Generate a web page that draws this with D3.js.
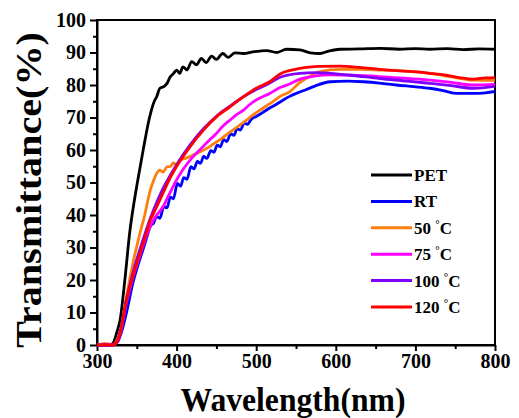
<!DOCTYPE html>
<html>
<head>
<meta charset="utf-8">
<script src="https://cdn.jsdelivr.net/npm/d3@7"></script>
<style>
  body { margin: 0; background: #fff; }
  svg text { font-family: "Times New Roman", "Liberation Serif", serif; font-weight: bold; fill: #000; }
  .axis path, .axis line { stroke: #000; stroke-width: 2px; }
</style>
</head>
<body>
<svg id="chart" width="519" height="418"></svg>
<script>
// data: [wavelength nm, transmittance %]
var seriesNames = ['PET', 'RT', '50 °C', '75 °C', '100 °C', '120 °C'];
var seriesColors = ['#000000', '#0000ff', '#ff7f0e', '#ff00ff', '#8000ff', '#ff0000'];

var pet = [[300,0],[315,0],[320,0.5],[325,4],[329,7.7],[335,20],[341,34.4],[347,44.6],[350,49],[358,60],
  [366,70],[372,75],[375,76.4],[379,79],[384,79.5],[388,80.5],[392,82.5],[396,83.5],[400,84.6],[404,83.6],
  [408,85.6],[413,84.6],[419,87.2],[425,86.2],[431,88.2],[437,86.9],[444,88.9],[450,87.9],[458,89.7],
  [465,88.5],[473,89.9],[484,89.7],[496,90.2],[513,90.6],[526,90],[538,91],[555,90.8],[568,89.9],[580,89.7],
  [592,90.5],[605,91],[630,91.1],[655,91.3],[680,91],[700,91.2],[718,91],[740,91.2],[760,90.9],[780,91.1],[800,91]];

var rt = [[300,0],[320,0],[326,1],[332,5],[338,11],[345,19],[352,25],[358,29.5],[363,33.5],[367,36.5],
  [371,37.5],[375,39.5],[379,39],[384,42.6],[388,42.2],[392,45.5],[396,45],[401,49.7],[405,48.9],[409,51.5],
  [413,51],[418,54.9],[422,54.2],[426,56.5],[430,55.9],[434,58],[438,57.4],[443,59.8],[447,59.3],[451,61.5],
  [455,61],[459,63.2],[463,62.6],[468,65],[472,64.5],[476,66.6],[480,66.1],[485,68.3],[489,67.9],[494,69.5],
  [500,70.3],[508,71.5],[517,72.9],[525,74],[534,75.4],[542,76.5],[551,77.5],[563,78.6],[575,79.8],[593,81],
  [615,81.2],[635,81],[655,80.6],[676,80],[698,79.5],[718,79],[735,78.3],[752,77.4],[773,77.4],[788,77.6],[800,78]];

var t50 = [[300,0],[305,0.3],[310,0.5],[315,0.3],[320,0],[325,1.5],[330,5],[337,15],[345,25],[354,34.4],
  [360,40],[364,44.6],[367,47.7],[371,50.5],[375,52.8],[379,53.8],[383,53.2],[388,54.9],[392,54.9],[396,56],
  [400,55.5],[404,56.9],[412,57.5],[421,58.5],[429,59.4],[438,60.5],[446,61.8],[454,63.1],[462,64.6],[471,66.2],
  [479,67.6],[488,69.2],[496,70.8],[505,72.3],[513,73.6],[521,74.9],[530,76.5],[542,77.9],[555,80.8],[567,82.6],
  [580,84.1],[605,84.8],[630,84.8],[655,84.6],[690,84.2],[718,83.6],[745,82.5],[773,81.5],[800,81.4]];

var t75 = [[300,0],[320,0],[325,0.8],[329,3.2],[337,13],[346,21.5],[354,27.5],[362,33.5],[371,38.5],[383,42.6],
  [391,46.5],[400,50.8],[408,54],[417,56.9],[425,59],[433,61],[442,63.2],[450,65.1],[458,67.3],[467,69.2],
  [475,70.8],[484,72.3],[492,74],[500,75.4],[517,77.4],[530,79.2],[542,80.3],[555,81.8],[575,82.8],[593,83.1],
  [620,83],[655,82.6],[690,82],[718,81.5],[745,80.8],[773,80],[800,80.3]];

var t100 = [[300,0],[320,0],[325,1],[329,4],[337,14],[346,23],[354,29.5],[362,35.5],[371,41.5],[383,48.2],
  [391,51.8],[400,55.5],[417,61.6],[434,66.6],[450,70.4],[467,73.5],[484,76.4],[500,78.6],[517,80.6],[530,82.4],
  [555,83.6],[575,83.8],[593,83.6],[620,83],[655,82],[690,81.2],[718,80.5],[745,79.8],[773,79],[800,79.6]];

var t120 = [[300,0],[320,0],[325,1],[329,3.6],[337,13.8],[346,22],[354,28.2],[362,34.4],[367,38.5],[371,40.5],
  [377,43.6],[383,46.8],[391,51],[400,54.9],[417,61],[434,66.2],[450,70.2],[467,73.3],[484,76.4],[500,79],
  [517,81],[530,83.4],[555,85.1],[580,85.7],[605,85.8],[630,85.4],[655,84.8],[676,84.4],[697,84.1],[718,83.6],
  [739,83],[755,82.3],[773,81.8],[788,82.2],[800,82.3]];

var seriesData = [pet, rt, t50, t75, t100, t120];

var xTicks = [300, 400, 500, 600, 700, 800];
var xMinor = [350, 450, 550, 650, 750];
var yTicks = [0, 10, 20, 30, 40, 50, 60, 70, 80, 90, 100];
var yMinor = [5, 15, 25, 35, 45, 55, 65, 75, 85, 95];

var svg = d3.select('#chart');
var pLeft = 97, pRight = 495, pTop = 20, pBottom = 345;

var x = d3.scaleLinear().domain([300, 800]).range([pLeft, pRight]);
var y = d3.scaleLinear().domain([0, 100]).range([pBottom, pTop]);

// minor ticks
svg.append('g').attr('class', 'axis')
  .attr('transform', 'translate(0,' + pBottom + ')')
  .call(d3.axisBottom(x).tickValues(xMinor).tickSize(4).tickFormat(''))
  .select('.domain').remove();
svg.append('g').attr('class', 'axis')
  .attr('transform', 'translate(' + pLeft + ',0)')
  .call(d3.axisLeft(y).tickValues(yMinor).tickSize(4).tickFormat(''))
  .select('.domain').remove();

// major ticks
var gx = svg.append('g').attr('class', 'axis')
  .attr('transform', 'translate(0,' + pBottom + ')')
  .call(d3.axisBottom(x).tickValues(xTicks).tickSize(6).tickSizeOuter(0).tickPadding(3));
gx.selectAll('text').style('font-size', '20px');

var gy = svg.append('g').attr('class', 'axis')
  .attr('transform', 'translate(' + pLeft + ',0)')
  .call(d3.axisLeft(y).tickValues(yTicks).tickSize(7).tickSizeOuter(0).tickPadding(4));
gy.selectAll('text').style('font-size', '20px');

// frame
svg.append('rect')
  .attr('x', pLeft).attr('y', pTop)
  .attr('width', pRight - pLeft).attr('height', pBottom - pTop)
  .attr('fill', 'none').attr('stroke', '#000').attr('stroke-width', 2);

var line = d3.line()
  .x(function(d){ return x(d[0]); })
  .y(function(d){ return y(d[1]); })
  .curve(d3.curveMonotoneX);

for (var i = 0; i < seriesData.length; i++) {
  svg.append('path')
    .datum(seriesData[i])
    .attr('d', line)
    .attr('fill', 'none')
    .attr('stroke', seriesColors[i])
    .attr('stroke-width', 2.8)
    .attr('stroke-linejoin', 'round');
}

// legend
var legend = svg.append('g').attr('transform', 'translate(371,175)');
seriesNames.forEach(function(name, i){
  var g = legend.append('g').attr('transform', 'translate(0,' + (i * 26.4) + ')');
  g.append('line').attr('x1', 0).attr('x2', 41).attr('y1', 0).attr('y2', 0)
    .attr('stroke', seriesColors[i]).attr('stroke-width', 3);
  var t = g.append('text').attr('x', 43).attr('y', 6).style('font-size', '17px');
  var parts = name.split('°');
  t.append('tspan').text(parts[0]);
  if (parts.length > 1) {
    t.append('tspan').attr('dy', -6).style('font-size', '11px').text('°');
    t.append('tspan').attr('dy', 6).text(parts[1]);
  }
});

// axis titles
svg.append('text')
  .attr('x', 293).attr('y', 411)
  .attr('text-anchor', 'middle')
  .attr('textLength', 225).attr('lengthAdjust', 'spacingAndGlyphs')
  .style('font-size', '34px')
  .text('Wavelength(nm)');

svg.append('text')
  .attr('transform', 'translate(41,190) rotate(-90)')
  .attr('text-anchor', 'middle')
  .attr('textLength', 316).attr('lengthAdjust', 'spacingAndGlyphs')
  .style('font-size', '36px')
  .text('Transmittance(%)');
</script>
</body>
</html>
